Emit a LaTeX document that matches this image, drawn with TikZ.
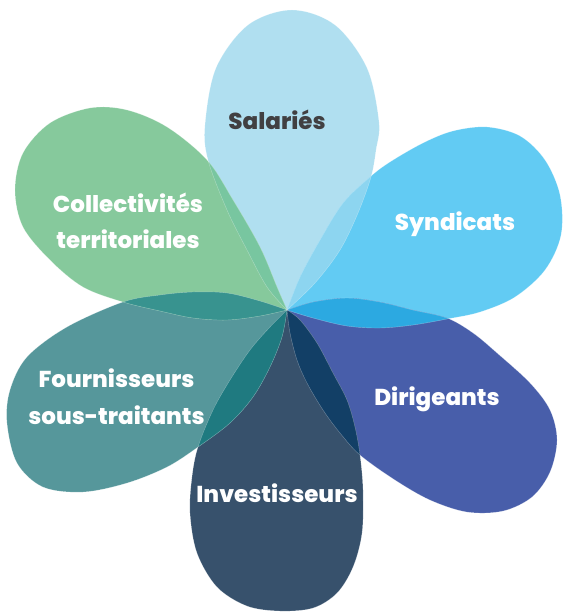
\documentclass[tikz,border=0pt]{standalone}
\usepackage{fontspec}
\setmainfont{Poppins}[BoldFont={* ExtraBold}]

\definecolor{salcol}{HTML}{B0DFF0}
\definecolor{syncol}{HTML}{62CBF3}
\definecolor{dircol}{HTML}{485EAA}
\definecolor{invcol}{HTML}{37516C}
\definecolor{fourcol}{HTML}{56979B}
\definecolor{colcol}{HTML}{86C99C}
\definecolor{salsyn}{HTML}{8DD5F0}
\definecolor{syndir}{HTML}{2CA9E1}
\definecolor{dirinv}{HTML}{123F66}
\definecolor{invfour}{HTML}{1F7A80}
\definecolor{fourcolec}{HTML}{38938F}
\definecolor{colsal}{HTML}{78C6A0}
\definecolor{saltext}{HTML}{414042}

% petal outlines, in pixel units
\newcommand{\petalS}{plot[smooth, tension=.55] coordinates {(287,310) (267,287) (247,250) (227,210) (208,160) (205,125) (216,68) (248,25) (292,10) (335,25) (367,68) (379,122) (376,150) (371,177) (358,213) (340,250) (315,283) (287,310)}}
\newcommand{\petalY}{plot[smooth, tension=.55] coordinates {(287,310) (300,277) (320,240) (343,203) (370,177) (390,162) (423,143) (453,131) (487,127) (520,136) (545,160) (560,195) (561,235) (545,270) (515,297) (480,312) (447,319) (413,325) (380,328) (347,326) (313,318) (287,310)}}
\newcommand{\petalD}{plot[smooth, tension=.55] coordinates {(287,310) (313,302) (347,298) (380,302) (413,310) (447,318) (473,333) (497,353) (530,383) (550,410) (557,440) (550,472) (532,497) (503,511) (467,512) (430,500) (395,480) (360,455) (340,433) (323,410) (307,383) (297,360) (290,333) (287,310)}}
\newcommand{\petalI}{plot[smooth, tension=.55] coordinates {(287,310) (300,320) (317,343) (333,373) (347,400) (355,427) (360,455) (363,490) (362,533) (353,567) (337,593) (313,608) (280,611) (247,606) (217,587) (197,553) (190,513) (192,477) (198,447) (213,410) (230,380) (250,350) (270,327) (287,310)}}
\newcommand{\petalF}{plot[smooth, tension=.55] coordinates {(287,310) (282,337) (270,367) (253,397) (230,423) (198,447) (167,467) (127,483) (83,492) (43,487) (17,463) (7,423) (10,390) (27,357) (67,327) (123,302) (160,295) (193,292) (227,293) (260,301) (287,310)}}
\newcommand{\petalC}{plot[smooth, tension=.55] coordinates {(287,310) (277,287) (260,247) (233,200) (207,160) (167,127) (127,110) (90,108) (50,123) (23,153) (15,190) (23,227) (50,260) (83,287) (123,302) (160,311) (193,318) (227,320) (260,316) (287,310)}}

\begin{document}
\begin{tikzpicture}[x=1pt, y=-1pt]
\tikzstyle{edge} = [draw=white, draw opacity=.35, line width=.4pt]
\tikzstyle{lbl} = [font=\fontsize{23}{36.5}\selectfont\bfseries, text=white, align=center, inner sep=0pt]

\useasboundingbox (0,0) rectangle (563,612);

% petals
\fill[salcol] \petalS;
\fill[syncol] \petalY;
\fill[dircol] \petalD;
\fill[invcol] \petalI;
\fill[fourcol] \petalF;
\fill[colcol] \petalC;

% overlaps
\begin{scope} \clip \petalS; \fill[salsyn] \petalY; \end{scope}
\begin{scope} \clip \petalY; \fill[syndir] \petalD; \end{scope}
\begin{scope} \clip \petalD; \fill[dirinv] \petalI; \end{scope}
\begin{scope} \clip \petalI; \fill[invfour] \petalF; \end{scope}
\begin{scope} \clip \petalF; \fill[fourcolec] \petalC; \end{scope}
\begin{scope} \clip \petalC; \fill[colsal] \petalS; \end{scope}

\path[edge] \petalS;
\path[edge] \petalY;
\path[edge] \petalD;
\path[edge] \petalI;
\path[edge] \petalF;
\path[edge] \petalC;

% labels
\node[lbl, text=saltext, anchor=base] (salaries) at (277,130) {Salariés};
\node[lbl, anchor=base] (syndicats) at (455,230) {Syndicats};
\node[lbl, anchor=base] (dirigeants) at (437,405) {Dirigeants};
\node[lbl, anchor=base] (investisseurs) at (277,502.7) {Investisseurs};
\node[lbl] (fournisseurs) at (116.5,396.5) {Fournisseurs\\sous-traitants};
\node[lbl] (collectivites) at (128,221) {Collectivités\\territoriales};
\end{tikzpicture}
\end{document}
